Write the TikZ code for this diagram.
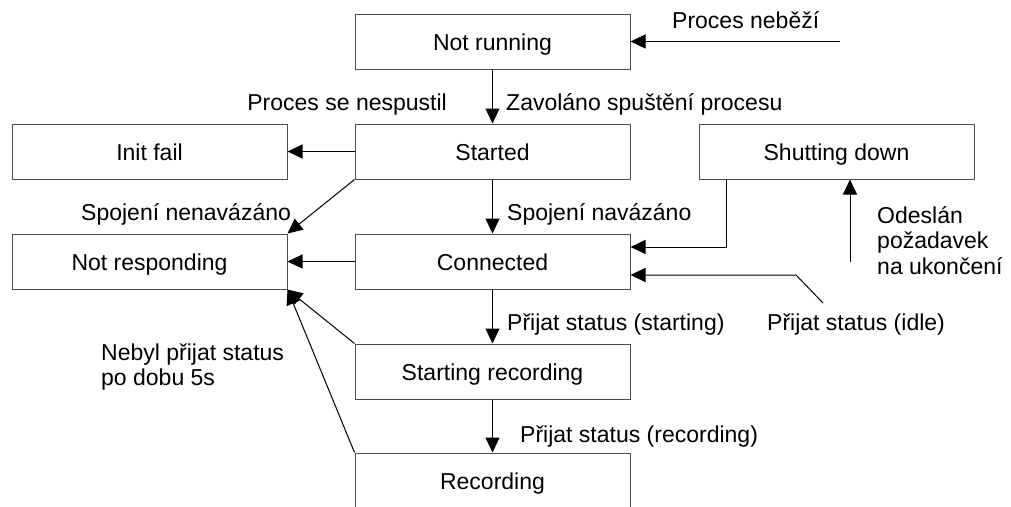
\documentclass[tikz,border=0pt]{standalone}
\usepackage{fontspec}
\setmainfont{Liberation Sans}
\usetikzlibrary{arrows.meta}
\begin{document}
\begin{tikzpicture}[x=1pt,y=-1pt,
  every node/.style={font=\fontsize{23}{25.5}\selectfont},
  state/.style={draw=black!70, line width=1pt, rectangle, minimum width=275pt, minimum height=55pt, inner sep=0pt, text height=17pt, text depth=0pt},
  lbl/.style={inner sep=0pt, anchor=base west},
  arr/.style={draw=black, line width=1pt, -{Triangle[length=15pt,width=14pt]}}
]
\useasboundingbox (0,0) rectangle (1011,506);
\clip (0,0) rectangle (1011,506);
% states
\node[state] (nr) at (492.5,41.5) {Not running};
\node[state] (st) at (492.5,151.5) {Started};
\node[state] (if) at (149.5,151.5) {Init fail};
\node[state] (sd) at (836.5,151.5) {Shutting down};
\node[state] (nresp) at (149.5,261.5) {Not responding};
\node[state] (con) at (492.5,261.5) {Connected};
\node[state] (sr) at (492.5,371.5) {Starting recording};
\node[state] (rec) at (492.5,480.5) {Recording};
% free ends
\coordinate (pn) at (840,41.5);
\coordinate (idl) at (823,303);
\coordinate (idlbend) at (796,275);
\coordinate (od) at (850,262);
% connectors
\draw[arr] (pn) -- (nr.east);
\draw[arr] (nr.south) -- (st.north);
\draw[arr] (st.west) -- (if.east);
\draw[arr] (st.south west) -- (nresp.north east);
\draw[arr] (st.south) -- (con.north);
\draw[arr] (con.west) -- (nresp.east);
\draw[arr] ([xshift=28pt]sd.south west) |- ([yshift=14.5pt]con.east);
\draw[arr] (idl) -- (idlbend) -- (idlbend -| con.east);
\draw[arr] (od) -- (od |- sd.south);
\draw[arr] (con.south) -- (sr.north);
\draw[arr] (sr.south) -- (rec.north);
\draw[arr] (sr.north west) -- (nresp.south east);
\draw[arr] (rec.north west) -- (nresp.south east);
% labels
\node[lbl] (l1) at (672,28) {Proces neběží};
\node[lbl] (l2) at (506,110) {Zavoláno spuštění procesu};
\node[inner sep=0pt, anchor=base east] (l3) at (447,110) {Proces se nespustil};
\node[lbl] (l4) at (81,220) {Spojení nenavázáno};
\node[lbl] (l5) at (507,220) {Spojení navázáno};
\node[lbl] (l6) at (877,223) {\begin{tabular}[t]{@{}l@{}}Odeslán\\požadavek\\na ukončení\end{tabular}};
\node[lbl] (l7) at (767,330) {Přijat status (idle)};
\node[lbl] (l8) at (507,330) {Přijat status (starting)};
\node[lbl] (l9) at (520,442) {Přijat status (recording)};
\node[lbl] (l10) at (101,360) {\begin{tabular}[t]{@{}l@{}}Nebyl přijat status\\po dobu 5s\end{tabular}};
\end{tikzpicture}
\end{document}
